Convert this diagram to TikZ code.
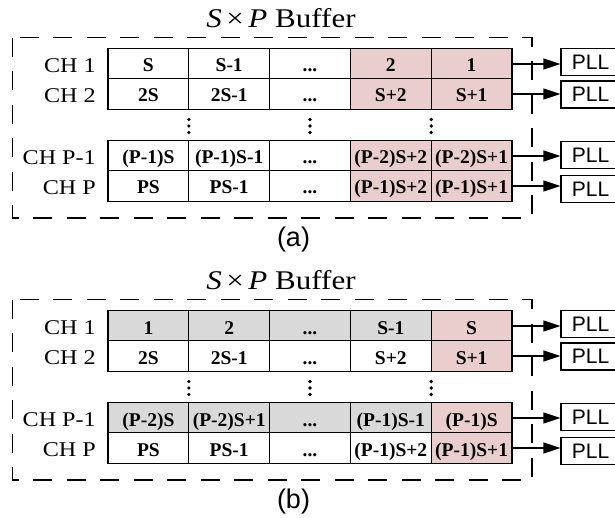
\documentclass[tikz,border=0pt]{standalone}
\usepackage{fontspec}
\setmainfont{Liberation Serif}
\newfontfamily\wideserif{Liberation Serif}[FakeStretch=1.15]
\newfontfamily\plainsans{Liberation Sans}
\usetikzlibrary{arrows.meta}

\definecolor{hot}{RGB}{234,206,206}
\definecolor{done}{RGB}{217,217,217}

\tikzset{
  cell/.style={draw, line width=1.2pt, minimum width=80.8pt, minimum height=30.3pt,
    inner sep=0pt, text height=16pt, text depth=0pt,
    font=\bfseries\fontsize{19.5}{19.5}\selectfont},
  chlabel/.style={anchor=east, inner sep=0pt, yshift=-2pt,
    font=\wideserif\fontsize{21}{21}\selectfont},
  pll/.style={draw, line width=1.1pt, minimum width=59pt, minimum height=27pt,
    inner sep=0pt, font=\plainsans\fontsize{21}{21}\selectfont},
  feed/.style={-{Triangle[length=17pt,width=11pt]}, line width=1.1pt},
  frame/.style={line width=1.2pt, dash pattern=on 19pt off 14.5pt},
  heading/.style={anchor=base, inner sep=0pt,
    font=\wideserif\fontsize{27}{27}\selectfont},
  caption/.style={inner sep=0pt, font=\plainsans\fontsize{27}{27}\selectfont},
  vdot/.style={fill=black},
}

% one buffer row: name, y, fill of columns 1-3, fill of column 4, four cell texts
\newcommand\bufrow[8]{%
  \node[cell, fill=#3] (#1-1) at (148.4,#2) {#5};
  \node[cell, fill=#3] (#1-2) at (229.2,#2) {#6};
  \node[cell, fill=#3] (#1-3) at (310.0,#2) {...};
  \node[cell, fill=#4] (#1-4) at (390.8,#2) {#7};
  \node[cell, fill=hot] (#1-5) at (471.6,#2) {#8};
}

% channel labels, vertical dots, PLL outputs and frame shared by both panels
\newcommand\panelparts[1]{%
  \node[chlabel] (#1-ch1) at (96,64) {CH 1};
  \node[chlabel] (#1-ch2) at (96,94) {CH 2};
  \node[chlabel] (#1-ch3) at (96,156) {CH P-1};
  \node[chlabel] (#1-ch4) at (96,186) {CH P};
  \foreach \x in {188.8,310,431.2}
    \foreach \y in {119.5,126,132.5}
      \fill[vdot] (\x,\y) circle (1.8pt);
  \node[pll] (#1-r1-pll) at (590.5,62) {PLL};
  \node[pll] (#1-r2-pll) at (590.5,94.5) {PLL};
  \node[pll] (#1-r3-pll) at (590.5,155) {PLL};
  \node[pll] (#1-r4-pll) at (590.5,189) {PLL};
  \foreach \r in {r1,r2,r3,r4}
    \draw[feed] (#1-\r-5.east) -- (#1-\r-5.east -| #1-\r-pll.west);
  \draw[frame] (12.3,37.7) rectangle (532,218);
  \node[heading] (#1-title) at (281,28) {\textit{S}\,×\,\textit{P} Buffer};
}

\begin{document}
\begin{tikzpicture}[x=1pt,y=-1pt]
\useasboundingbox (0,0) rectangle (615,518);

% (a) newest samples at the right of every channel
\begin{scope}
  \bufrow{a-r1}{64}{white}{hot}{S}{S-1}{2}{1}
  \bufrow{a-r2}{94}{white}{hot}{2S}{2S-1}{S+2}{S+1}
  \bufrow{a-r3}{156}{white}{hot}{(P-1)S}{(P-1)S-1}{(P-2)S+2}{(P-2)S+1}
  \bufrow{a-r4}{186}{white}{hot}{PS}{PS-1}{(P-1)S+2}{(P-1)S+1}
  \panelparts{a}
  \node[caption] (a-cap) at (293.5,240) {(a)};
\end{scope}

% (b) odd channels filled in forward order
\begin{scope}[yshift=-262pt]
  \bufrow{b-r1}{64}{done}{done}{1}{2}{S-1}{S}
  \bufrow{b-r2}{94}{white}{white}{2S}{2S-1}{S+2}{S+1}
  \bufrow{b-r3}{156}{done}{done}{(P-2)S}{(P-2)S+1}{(P-1)S-1}{(P-1)S}
  \bufrow{b-r4}{186}{white}{white}{PS}{PS-1}{(P-1)S+2}{(P-1)S+1}
  \panelparts{b}
  \node[caption] (b-cap) at (293.5,240) {(b)};
\end{scope}
\end{tikzpicture}
\end{document}
